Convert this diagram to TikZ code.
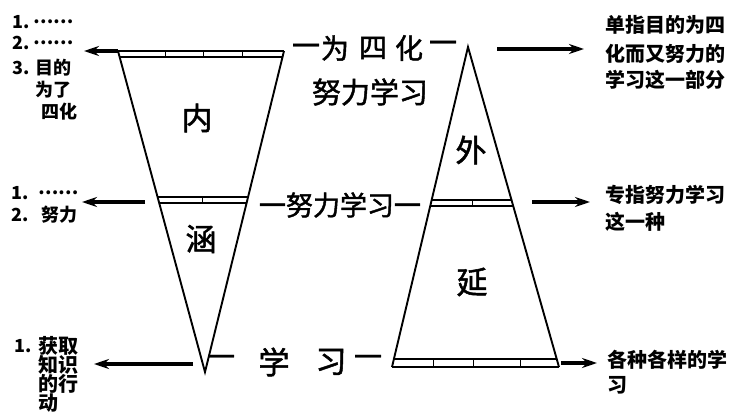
\documentclass[tikz,border=0pt]{standalone}
\usepackage{fontspec}
\newfontfamily\cjk{Noto Sans CJK SC}
\newfontfamily\cjkm{Noto Sans CJK SC}[FakeBold=1.6]
\usetikzlibrary{arrows.meta,calc}
\begin{document}
\begin{tikzpicture}[x=1pt,y=-1pt,
  lab/.style={font=\cjk\bfseries\fontsize{18}{20}\selectfont, inner sep=0pt, anchor=west},
  rlab/.style={font=\cjk\bfseries\fontsize{20}{22}\selectfont, inner sep=0pt, anchor=west},
  big/.style={font=\cjkm\fontsize{28}{30}\selectfont, inner sep=0pt},
  huge/.style={font=\cjkm\fontsize{31}{33}\selectfont, inner sep=0pt},
  tri/.style={line width=1.9pt, line join=miter},
  barline/.style={line width=1.6pt},
  arr/.style={line width=3.4pt, -{Stealth[length=15pt,width=10pt]}}]
\useasboundingbox (0,0) rectangle (731,415);
\fill[white] (0,0) rectangle (731,415);

% ---------- left (inverted) triangle: intension ----------
\coordinate (LTL) at (118,51);
\coordinate (LTR) at (284,51);
\coordinate (LA) at (205,372);
\draw[tri] (LTL) -- (LA) -- (LTR);
\draw[barline] (LTL) -- (LTR);
\coordinate (LTLi) at ($(LTL)!0.0187!(LA)$);
\coordinate (LTRi) at ($(LTR)!0.0187!(LA)$);
\draw[barline] (LTLi) -- (LTRi);
\draw[line width=1pt] (165,51) -- (165,57) (203,51) -- (203,57) (242,51) -- (242,57);
\coordinate (LM1l) at ($(LTL)!0.4548!(LA)$);
\coordinate (LM1r) at ($(LTR)!0.4548!(LA)$);
\coordinate (LM2l) at ($(LTL)!0.4735!(LA)$);
\coordinate (LM2r) at ($(LTR)!0.4735!(LA)$);
\draw[barline] (LM1l) -- (LM1r);
\draw[barline] (LM2l) -- (LM2r);
\draw[line width=1pt] (202,197) -- (202,203);

% ---------- right (upright) triangle: extension ----------
\coordinate (RA) at (468,47);
\coordinate (RBL) at (392,367);
\coordinate (RBR) at (559,367);
\draw[tri] (RBL) -- (RA) -- (RBR);
\draw[barline] (RBL) -- (RBR);
\coordinate (RBLi) at ($(RA)!0.975!(RBL)$);
\coordinate (RBRi) at ($(RA)!0.975!(RBR)$);
\draw[barline] (RBLi) -- (RBRi);
\draw[line width=1pt] (433,359) -- (433,367) (473,359) -- (473,367) (520,359) -- (520,367);
\coordinate (RM1l) at ($(RA)!0.478!(RBL)$);
\coordinate (RM1r) at ($(RA)!0.478!(RBR)$);
\coordinate (RM2l) at ($(RA)!0.497!(RBL)$);
\coordinate (RM2r) at ($(RA)!0.497!(RBR)$);
\draw[barline] (RM1l) -- (RM1r);
\draw[barline] (RM2l) -- (RM2r);
\draw[line width=1pt] (472,200) -- (472,206);

% ---------- triangle characters ----------
\node[huge] (nei) at (197,118) {内};
\node[huge] (han) at (201,239) {涵};
\node[huge] (wai) at (471,150) {外};
\node[huge] (yan) at (472,282) {延};

% ---------- middle labels ----------
\node[big] (d1) at (306,50) {一};
\node[big] (w1) at (335,48) {为};
\node[big] (w2) at (373,48) {四};
\node[big] (w3) at (409,48) {化};
\node[big] (d2) at (443,47) {一};
\node[big, font=\cjkm\fontsize{29}{31}\selectfont] (nlxx) at (370,92) {努力学习};
\node[big, font=\cjkm\fontsize{27}{29}\selectfont] (nlxx2) at (340,205) {一努力学习一};
\node[big] (d3) at (221,361) {一};
\node[huge] (xue) at (274,362) {学};
\node[huge] (xi) at (331,362) {习};
\node[big] (d4) at (368,361) {一};

% ---------- arrows ----------
\coordinate (a1e) at (84,51);
\coordinate (a2s) at (497,49);
\coordinate (a2e) at (584,49);
\coordinate (a3s) at (145,202);
\coordinate (a3e) at (82,202);
\coordinate (a4s) at (532,202);
\coordinate (a4e) at (590,202);
\coordinate (a5s) at (193,364);
\coordinate (a5e) at (94,364);
\coordinate (a6s) at (561,363);
\coordinate (a6e) at (597,363);
\draw[arr] (LTL) -- (a1e);
\draw[arr] (a2s) -- (a2e);
\draw[arr] (a3s) -- (a3e);
\draw[arr] (a4s) -- (a4e);
\draw[arr] (a5s) -- (a5e);
\draw[arr] (a6s) -- (a6e);

% ---------- left labels ----------
\node[lab] (n1) at (12,22) {1.};
\node[lab] (t1) at (33,22) {……};
\node[lab] (n2) at (12,43) {2.};
\node[lab] (t2) at (33,43) {……};
\node[lab] (n3) at (12,68) {3.};
\node[lab] (t3) at (35,68) {目的};
\node[lab] (t3b) at (35,90) {为了};
\node[lab] (t3c) at (41,112) {四化};
\node[lab] (m1) at (11,193) {1.};
\node[lab] (mt1) at (38,193) {……};
\node[lab] (m2) at (11,215) {2.};
\node[lab] (mt2) at (41,215) {努力};
\node[lab] (b1) at (14,346) {1.};
\node[lab, font=\cjk\bfseries\fontsize{20}{22}\selectfont] (bt1) at (38,346) {获取};
\node[lab, font=\cjk\bfseries\fontsize{20}{22}\selectfont] (bt2) at (38,365) {知识};
\node[lab, font=\cjk\bfseries\fontsize{20}{22}\selectfont] (bt3) at (38,384) {的行};
\node[lab, font=\cjk\bfseries\fontsize{20}{22}\selectfont] (bt4) at (38,403) {动};

% ---------- right labels ----------
\node[rlab] (r1) at (605,25) {单指目的为四};
\node[rlab] (r2) at (605,54) {化而又努力的};
\node[rlab] (r3) at (605,80) {学习这一部分};
\node[rlab] (r4) at (605,195) {专指努力学习};
\node[rlab] (r5) at (605,222) {这一种};
\node[rlab] (r6) at (607,360) {各种各样的学};
\node[rlab] (r7) at (607,385) {习};
\end{tikzpicture}
\end{document}
